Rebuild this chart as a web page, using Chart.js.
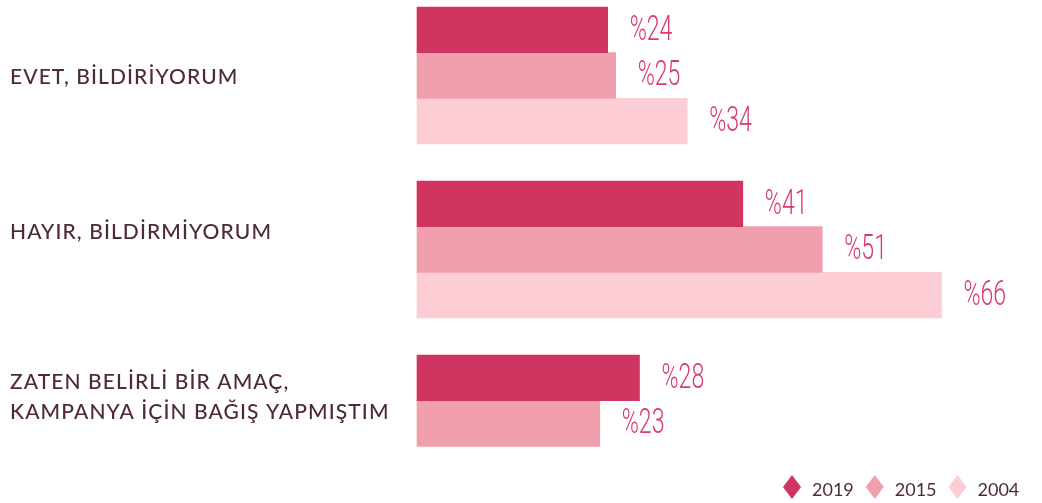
<!DOCTYPE html>
<html>
<head>
<meta charset="utf-8">
<script src="https://cdn.jsdelivr.net/npm/chart.js@4/dist/chart.umd.min.js"></script>
<style>
  html, body { margin: 0; padding: 0; background: #fff; }
  #wrap { width: 1042px; height: 503px; position: relative; }
</style>
</head>
<body>
<div id="wrap"><canvas id="answerChart"></canvas></div>
<script>
// Answers and the share of respondents per survey year
const categories = [
    ['EVET, BİLDİRİYORUM'],
    ['HAYIR, BİLDİRMİYORUM'],
    ['ZATEN BELİRLİ BİR AMAÇ,', 'KAMPANYA İÇİN BAĞIŞ YAPMIŞTIM']
];
const years = ['2019', '2015', '2004'];
const values2019 = [24, 41, 28];
const values2015 = [25, 51, 23];
const values2004 = [34, 66, null];
const colors = ['#d03461', '#f19fac', '#fccdd5'];

const labelColor = '#4f2a39';
const valueColor = '#d9396b';

// small vertical nudges so the answer text sits like the printed layout
const labelNudge = [2, -17.5, -26];

// answer labels on the left
const answerLabels = {
    id: 'answerLabels',
    afterDraw(chart) {
        const ctx = chart.ctx;
        const y = chart.scales.y;
        ctx.save();
        ctx.fillStyle = labelColor;
        ctx.font = '500 21px Lato';
        ctx.letterSpacing = '1.1px';
        ctx.textAlign = 'left';
        ctx.textBaseline = 'middle';
        categories.forEach((lines, i) => {
            const cy = y.getPixelForValue(i) + labelNudge[i];
            const lh = 30;
            lines.forEach((line, j) => {
                ctx.fillText(line, 10, cy + (j - (lines.length - 1) / 2) * lh);
            });
        });
        ctx.restore();
    }
};

// "%NN" after each bar in a narrow light face
const valueLabels = {
    id: 'valueLabels',
    afterDatasetsDraw(chart) {
        const ctx = chart.ctx;
        ctx.save();
        ctx.fillStyle = valueColor;
        ctx.font = '300 35px Roboto';
        ctx.textAlign = 'left';
        ctx.textBaseline = 'middle';
        chart.data.datasets.forEach((ds, di) => {
            const meta = chart.getDatasetMeta(di);
            meta.data.forEach((bar, i) => {
                const v = ds.data[i];
                if (v === null || v === undefined) return;
                ctx.save();
                ctx.translate(bar.x + 22, bar.y + 1);
                ctx.scale(0.66, 1);
                ctx.fillText('%' + v, 0, 0);
                ctx.restore();
            });
        });
        ctx.restore();
    }
};

// legend in the bottom right corner with tall diamonds
const diamondLegend = {
    id: 'diamondLegend',
    afterDraw(chart) {
        const ctx = chart.ctx;
        ctx.save();
        ctx.font = '18px Lato';
        ctx.textBaseline = 'middle';
        ctx.textAlign = 'left';
        let x = 783;
        const cy = 487;
        chart.data.datasets.forEach(ds => {
            ctx.fillStyle = ds.backgroundColor;
            ctx.beginPath();
            ctx.moveTo(x + 9, cy - 12);
            ctx.lineTo(x + 18, cy);
            ctx.lineTo(x + 9, cy + 12);
            ctx.lineTo(x, cy);
            ctx.closePath();
            ctx.fill();
            ctx.fillStyle = labelColor;
            ctx.fillText(ds.label, x + 29, cy + 3);
            x += 29 + ctx.measureText(ds.label).width + 12;
        });
        ctx.restore();
    }
};

const ctx = document.getElementById('answerChart').getContext('2d');
const answerChart = new Chart(ctx, {
    type: 'bar',
    data: {
        labels: categories,
        datasets: [
            { label: years[0], data: values2019, backgroundColor: colors[0] },
            { label: years[1], data: values2015, backgroundColor: colors[1] },
            { label: years[2], data: values2004, backgroundColor: colors[2] }
        ]
    },
    options: {
        indexAxis: 'y',
        responsive: true,
        maintainAspectRatio: false,
        animation: false,
        layout: {
            padding: { left: 417, right: 29, top: 75.5, bottom: 79.5 }
        },
        datasets: {
            bar: { barThickness: 45.67, clip: false, borderWidth: 0 }
        },
        scales: {
            x: { min: 0, max: 75, display: false },
            y: { display: false, offset: false }
        },
        plugins: {
            legend: { display: false },
            tooltip: { enabled: false }
        }
    },
    plugins: [answerLabels, valueLabels, diamondLegend]
});
</script>
</body>
</html>
